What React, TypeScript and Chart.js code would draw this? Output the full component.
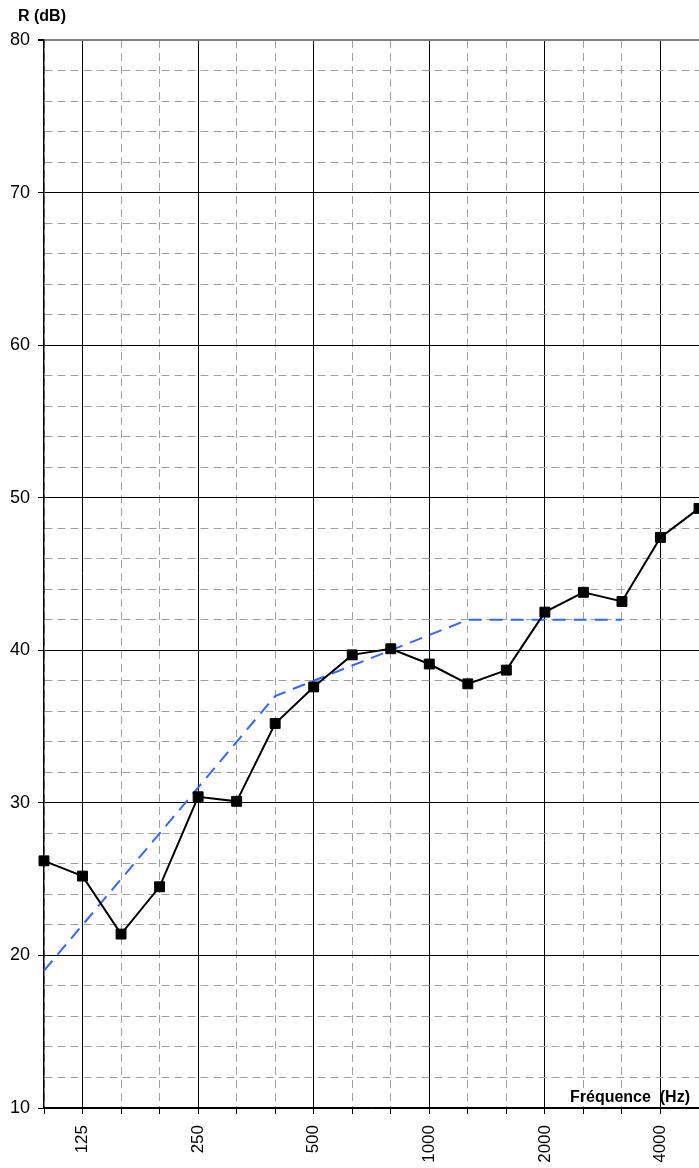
import React, { useEffect, useRef } from "react";
import { Chart, registerables } from "chart.js";

Chart.register(...registerables);

const frequencies = ["100", "125", "160", "200", "250", "315", "400", "500", "630", "800", "1000", "1250", "1600", "2000", "2500", "3150", "4000", "5000"];
const octaveLabels = ["125", "250", "500", "1000", "2000", "4000"];
const measured = [26.2, 25.2, 21.4, 24.5, 30.4, 30.1, 35.2, 37.6, 39.7, 40.1, 39.1, 37.8, 38.7, 42.5, 43.8, 43.2, 47.4, 49.3];
const reference = [19, 22, 25, 28, 31, 34, 37, 38, 39, 40, 41, 42, 42, 42, 42, 42, null, null];
const yMin = 10;
const yMax = 80;
const yStep = 2;
const yTitle = "R (dB)";
const xTitle = "Fréquence  (Hz)";

const FONT = "'Liberation Sans', Arial, sans-serif";
const MINOR = "#a0a0a0";

export default function App() {
  const ref = useRef<HTMLCanvasElement | null>(null);

  useEffect(() => {
    const canvas = ref.current;
    if (!canvas) return;
    const titles = {
      id: "titles",
      afterDraw(chart: any) {
        const ctx = chart.ctx;
        ctx.save();
        ctx.fillStyle = "#000";
        ctx.font = `bold 16px ${FONT}`;
        ctx.textAlign = "left";
        ctx.textBaseline = "alphabetic";
        ctx.fillText(yTitle, 18, 21);
        ctx.textAlign = "right";
        ctx.fillText(xTitle, 690, 1102);
        ctx.restore();
      },
    };
    const chart = new Chart(canvas, {
      type: "line",
      data: {
        labels: frequencies,
        datasets: [
          {
            data: measured,
            borderColor: "#000",
            backgroundColor: "#000",
            borderWidth: 2,
            pointStyle: "rect",
            pointRadius: 7,
            pointBorderWidth: 1,
            pointBorderColor: "#000",
            pointBackgroundColor: "#000",
            tension: 0,
          },
          {
            data: reference,
            borderColor: "#3366ff",
            borderWidth: 2,
            borderDash: [13, 8],
            pointRadius: 0,
            tension: 0,
            spanGaps: false,
          },
        ],
      },
      options: {
        animation: false,
        responsive: false,
        devicePixelRatio: 1,
        layout: { autoPadding: false, padding: { top: 40, left: 0, right: 0, bottom: 0 } },
        plugins: { legend: { display: false }, tooltip: { enabled: false } },
        scales: {
          x: {
            type: "category",
            offset: false,
            afterFit(scale: any) {
              scale.height = 60;
              scale.paddingLeft = 0;
              scale.paddingRight = 0;
            },
            grid: {
              color: (c: any) => (octaveLabels.includes(frequencies[c.index]) ? "#000" : MINOR),
              lineWidth: 1,
              tickColor: "#000",
              tickLength: 6,
            },
            border: {
              color: "#000",
              width: 1.5,
              dash: (c: any) => (c.index !== undefined && !octaveLabels.includes(frequencies[c.index]) ? [8, 5] : []),
            },
            ticks: {
              autoSkip: false,
              maxRotation: 90,
              minRotation: 90,
              padding: 11,
              color: "#000",
              font: { family: FONT, size: 17 },
              callback: (_v: any, i: number) => (octaveLabels.includes(frequencies[i]) ? frequencies[i] : ""),
            },
          },
          y: {
            min: yMin,
            max: yMax,
            afterFit(scale: any) {
              scale.width = 44;
              scale.paddingTop = 0;
              scale.paddingBottom = 0;
            },
            grid: {
              color: (c: any) => {
                const v = c.tick ? c.tick.value : 0;
                if (v === yMax) return "#808080";
                return v % 10 === 0 ? "#000" : MINOR;
              },
              lineWidth: (c: any) => (c.tick && c.tick.value === yMax ? 2 : 1),
              tickColor: (c: any) => (c.tick && c.tick.value % 10 === 0 ? "#000" : "rgba(0,0,0,0)"),
              tickLength: 6,
            },
            border: {
              color: "#000",
              width: 1.5,
              dash: (c: any) => (c.tick && c.tick.value % 10 !== 0 ? [8, 5] : []),
            },
            ticks: {
              stepSize: yStep,
              autoSkip: false,
              padding: 8,
              color: "#000",
              font: { family: FONT, size: 18 },
              callback: (v: any) => (Number(v) % 10 === 0 ? String(v) : ""),
            },
          },
        },
      },
      plugins: [titles],
    } as any);
    return () => chart.destroy();
  }, []);

  return (
    <div style={{ position: "absolute", left: 0, top: 0, width: 699, height: 1168, background: "#fff" }}>
      <canvas ref={ref} width={699} height={1168} style={{ width: 699, height: 1168, display: "block" }} />
    </div>
  );
}
